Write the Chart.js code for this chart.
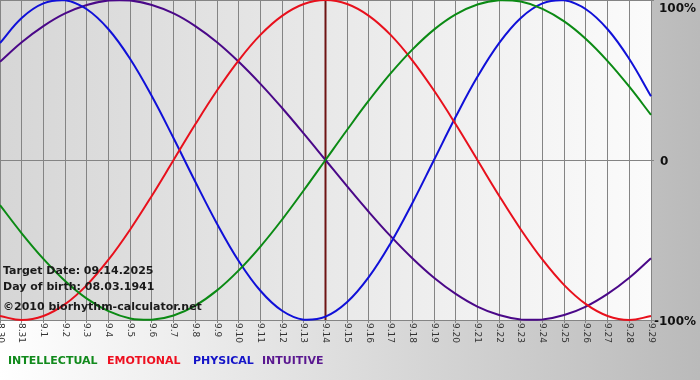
<!DOCTYPE html>
<html lang="en">
<head>
  <meta charset="UTF-8">
  <title>Biorhythm chart</title>
  <script src="https://cdn.jsdelivr.net/npm/chart.js@4.4.1/dist/chart.umd.min.js"></script>
  <style>
    html, body { margin: 0; padding: 0; background: #fff; }
    canvas { display: block; }
  </style>
</head>
<body>
  <canvas id="bio" width="700" height="380"></canvas>

  <script>
    // days shown on the x axis (month.day)
    const dias = ['8.30', '8.31', '9.1', '9.2', '9.3', '9.4', '9.5', '9.6', '9.7', '9.8', '9.9', '9.10',
      '9.11', '9.12', '9.13', '9.14', '9.15', '9.16', '9.17', '9.18', '9.19', '9.20', '9.21', '9.22',
      '9.23', '9.24', '9.25', '9.26', '9.27', '9.28', '9.29'];

    // values in percent
    const intelectual = [-28.2, -45.8, -61.8, -75.6, -86.6, -94.5, -99.0, -99.9, -97.2, -91.0, -81.5,
      -69.0, -54.1, -37.2, -18.9, 0, 18.9, 37.2, 54.1, 69.0, 81.5, 91.0, 97.2, 99.9, 99.0, 94.5,
      86.6, 75.6, 61.8, 45.8, 28.2];
    const emocional = [-97.5, -100, -97.5, -90.1, -78.2, -62.3, -43.4, -22.3, 0, 22.3, 43.4, 62.3,
      78.2, 90.1, 97.5, 100, 97.5, 90.1, 78.2, 62.3, 43.4, 22.3, 0, -22.3, -43.4, -62.3, -78.2,
      -90.1, -97.5, -100, -97.5];
    const fisico = [73.1, 88.8, 97.9, 99.8, 94.2, 81.7, 63.1, 39.8, 13.6, -13.6, -39.8, -63.1, -81.7,
      -94.2, -99.8, -97.9, -88.8, -73.1, -52.0, -27.0, 0, 27.0, 52.0, 73.1, 88.8, 97.9, 99.8, 94.2,
      81.7, 63.1, 39.8];
    const intuitivo = [61.4, 73.6, 83.7, 91.6, 96.9, 99.7, 99.7, 96.9, 91.6, 83.7, 73.6, 61.4, 47.6,
      32.5, 16.5, 0, -16.5, -32.5, -47.6, -61.4, -73.6, -83.7, -91.6, -96.9, -99.7, -99.7, -96.9,
      -91.6, -83.7, -73.6, -61.4];

    const yTicks = [100, 0, -100];
    const yTickLabels = ['100%', '0', '-100%'];
    const diaObjetivo = '9.14';
    const notas = ['Target Date: 09.14.2025', 'Day of birth: 08.03.1941', '©2010 biorhythm-calculator.net'];

    const fuente = '"DejaVu Sans", Verdana, sans-serif';

    // fondos: exterior y zona del grafico
    const fondo = {
      id: 'fondo',
      beforeDraw(chart) {
        const ctx = chart.ctx;
        const a = chart.chartArea;
        ctx.save();
        let g = ctx.createLinearGradient(0, 0, chart.width, 0);
        g.addColorStop(0, '#ffffff');
        g.addColorStop(1, '#bababa');
        ctx.fillStyle = g;
        ctx.fillRect(0, 0, chart.width, chart.height);
        g = ctx.createLinearGradient(a.left, 0, a.right, 0);
        g.addColorStop(0, '#d6d6d6');
        g.addColorStop(1, '#fbfbfb');
        ctx.fillStyle = g;
        ctx.fillRect(a.left, a.top, a.right - a.left, a.bottom - a.top);
        ctx.restore();
      }
    };

    // linea del dia objetivo
    const objetivo = {
      id: 'objetivo',
      beforeDatasetsDraw(chart) {
        const ctx = chart.ctx;
        const a = chart.chartArea;
        const x = chart.scales.x.getPixelForValue(dias.indexOf(diaObjetivo));
        ctx.save();
        ctx.strokeStyle = '#6e1414';
        ctx.lineWidth = 2;
        ctx.beginPath();
        ctx.moveTo(x, a.top);
        ctx.lineTo(x, a.bottom);
        ctx.stroke();
        ctx.restore();
      }
    };

    // textos: etiquetas de ejes, notas y leyenda
    const textos = {
      id: 'textos',
      afterDraw(chart) {
        const ctx = chart.ctx;
        const a = chart.chartArea;
        const xs = chart.scales.x;
        const ys = chart.scales.y;
        ctx.save();

        // etiquetas del eje x, giradas hacia abajo
        ctx.font = '9px ' + fuente;
        ctx.fillStyle = '#333333';
        ctx.textAlign = 'left';
        ctx.textBaseline = 'middle';
        dias.forEach((d, i) => {
          const x = xs.getPixelForValue(i);
          ctx.save();
          ctx.translate(x, a.bottom + 3);
          ctx.rotate(Math.PI / 2);
          ctx.fillText(d, 0, 0);
          ctx.restore();
        });

        // etiquetas del eje y (derecha)
        ctx.font = 'bold 12px ' + fuente;
        ctx.fillStyle = '#111111';
        yTicks.forEach((v, i) => {
          const y = Math.max(ys.getPixelForValue(v), 7);
          let x = a.right + 8;
          if (v === 0) x = a.right + 9;
          if (v < 0) x = a.right + 3;
          ctx.fillText(yTickLabels[i], x, y + 2);
        });

        // notas
        ctx.font = 'bold 11px ' + fuente;
        ctx.fillStyle = '#1a1a1a';
        ctx.fillText(notas[0], 3, 271);
        ctx.fillText(notas[1], 3, 287);
        ctx.fillText(notas[2], 3, 307);

        // leyenda
        const xLeyenda = [8, 107, 193, 262];
        chart.data.datasets.forEach((ds, i) => {
          ctx.fillStyle = ds.legendColor;
          ctx.fillText(ds.label, xLeyenda[i], 361);
        });
        ctx.restore();
      }
    };

    function crearGrafica() {
      const ctx = document.getElementById('bio').getContext('2d');
      new Chart(ctx, {
        type: 'line',
        data: {
          labels: dias,
          datasets: [
            { label: 'INTELLECTUAL', data: intelectual, borderColor: '#0b8a14', legendColor: '#118a1c' },
            { label: 'EMOTIONAL', data: emocional, borderColor: '#e8101c', legendColor: '#ee1020' },
            { label: 'PHYSICAL', data: fisico, borderColor: '#1010d8', legendColor: '#1414c8' },
            { label: 'INTUITIVE', data: intuitivo, borderColor: '#4a0888', legendColor: '#5a1890' }
          ].map(ds => Object.assign(ds, {
            borderWidth: 2,
            pointRadius: 0,
            tension: 0.4,
            fill: false,
            clip: 3
          }))
        },
        options: {
          responsive: false,
          animation: false,
          layout: { padding: { left: 0, top: 0, right: 46, bottom: 57 } },
          plugins: { legend: { display: false }, tooltip: { enabled: false } },
          scales: {
            x: {
              offset: false,
              grid: { color: '#848484', lineWidth: 1, drawTicks: true, tickLength: 3 },
              border: { display: false },
              ticks: { display: false }
            },
            y: {
              position: 'right',
              min: -100,
              max: 100,
              afterBuildTicks(scale) {
                scale.ticks = yTicks.map(v => ({ value: v }));
              },
              grid: { color: '#848484', lineWidth: 1, drawTicks: true, tickLength: 3 },
              border: { display: false },
              ticks: { display: false }
            }
          }
        },
        plugins: [fondo, objetivo, textos]
      });
    }

    crearGrafica();
  </script>
</body>
</html>
